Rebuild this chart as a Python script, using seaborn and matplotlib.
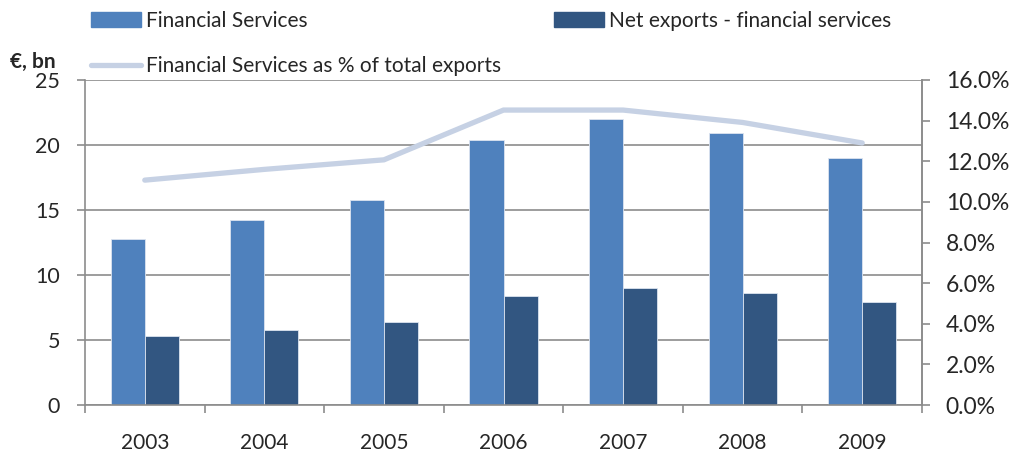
#
# Financial services exports, 2003-2009 (bars) and share of total exports (line)
#

import numpy as np
import pandas as pd
import matplotlib
matplotlib.use("Agg")
import matplotlib.pyplot as plt
from matplotlib.ticker import PercentFormatter, FixedLocator
from matplotlib.patches import Patch
from matplotlib.lines import Line2D
import seaborn as sns

years = ["2003", "2004", "2005", "2006", "2007", "2008", "2009"]
financial_services = [12.8, 14.2, 15.8, 20.4, 22.0, 20.9, 19.0]
net_exports = [5.3, 5.75, 6.35, 8.35, 9.0, 8.6, 7.9]
share_of_exports = [0.1107, 0.116, 0.1207, 0.1452, 0.1452, 0.1391, 0.129]

series_names = ["Financial Services", "Net exports - financial services"]
line_name = "Financial Services as % of total exports"

BLUE = "#4F81BD"
DARK = "#325681"
LIGHT = "#C6D1E4"
GRID = "#8C8C8C"

sns.set_theme(style="white")
plt.rcParams["font.family"] = ["Lato", "DejaVu Sans"]

df = pd.DataFrame({
    "year": years * 2,
    "value": financial_services + net_exports,
    "series": [series_names[0]] * len(years) + [series_names[1]] * len(years),
})

fig = plt.figure(figsize=(10.13, 4.54), dpi=100)
ax = fig.add_axes([85 / 1013, 1 - 405 / 454, (922 - 85) / 1013, (405 - 80) / 454])

sns.barplot(data=df, x="year", y="value", hue="series", palette=[BLUE, DARK],
            saturation=1, width=0.57, gap=0, ax=ax, legend=False,
            edgecolor="#DCE4F0", linewidth=0.6)

ax.set_ylim(0, 25)
ax.set_xlim(-0.5, len(years) - 0.5)
ax.set_yticks([0, 5, 10, 15, 20, 25])
ax.yaxis.grid(True, color=GRID, linewidth=1.2)
ax.set_axisbelow(True)
ax.set_xlabel("")
ax.set_ylabel("")
for side in ["left", "bottom", "right"]:
    ax.spines[side].set_color(GRID)
    ax.spines[side].set_linewidth(1.2)
ax.spines["top"].set_visible(False)

ax.xaxis.set_minor_locator(FixedLocator(np.arange(-0.5, len(years), 1.0)))
ax.tick_params(axis="x", which="major", length=0, pad=20, labelsize=15)
ax.tick_params(axis="x", which="minor", length=6, width=1.2, color=GRID, direction="out", bottom=True)
ax.tick_params(axis="y", length=6, width=1.2, color=GRID, direction="out", left=True, pad=12, labelsize=15.5)

ax2 = ax.twinx()
sns.lineplot(x=np.arange(len(years)), y=share_of_exports, ax=ax2, color=LIGHT,
             linewidth=3.8, solid_capstyle="round", solid_joinstyle="miter")
ax2.set_ylim(0, 0.16)
ax2.set_yticks(np.arange(0, 0.161, 0.02))
ax2.yaxis.set_major_formatter(PercentFormatter(xmax=1, decimals=1))
ax2.tick_params(axis="y", length=6, width=1.2, color=GRID, direction="out", right=True, pad=11, labelsize=16.5)
for side in ["left", "bottom", "top"]:
    ax2.spines[side].set_visible(False)
ax2.spines["right"].set_color(GRID)
ax2.spines["right"].set_linewidth(1.2)

# legends, laid out like the original (two columns, second row only in the first)
leg_kw = dict(frameon=False, fontsize=15, handletextpad=0.25, borderaxespad=0,
              borderpad=0, labelspacing=1.2)
fig.legend(handles=[Patch(color=BLUE), Line2D([], [], color=LIGHT, linewidth=3.8)],
           labels=[series_names[0], line_name], loc="upper left",
           bbox_to_anchor=(91 / 1013, 1 - 11 / 454), handlelength=2.4, **leg_kw)
fig.legend(handles=[Patch(color=DARK)], labels=[series_names[1]], loc="upper left",
           bbox_to_anchor=(554 / 1013, 1 - 11 / 454), handlelength=2.4, **leg_kw)

fig.text(10 / 1013, 1 - 62 / 454, "€, bn", fontsize=15, fontweight="bold", va="center", ha="left")

fig.savefig("out.png", dpi=100)
